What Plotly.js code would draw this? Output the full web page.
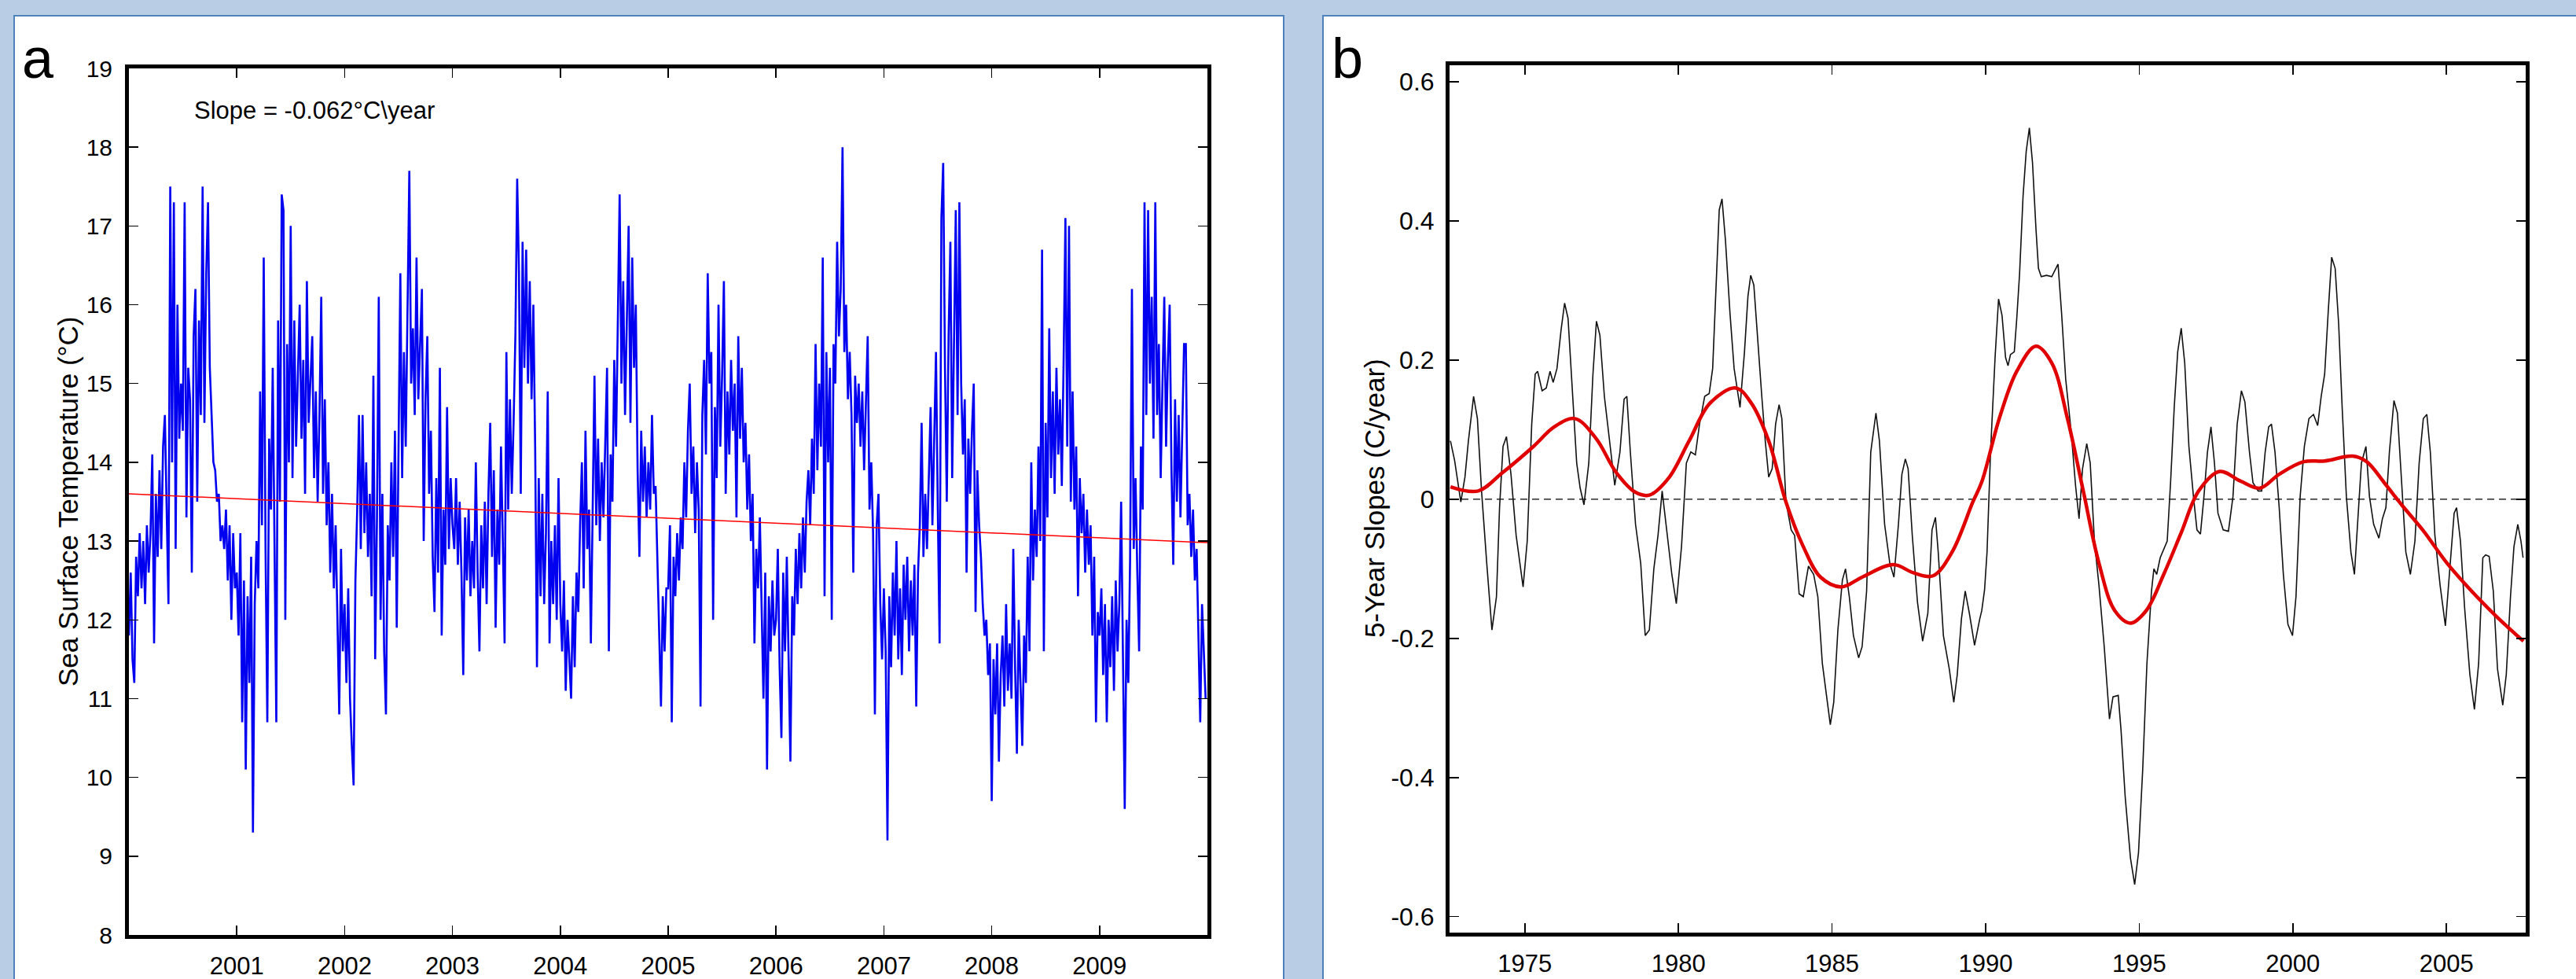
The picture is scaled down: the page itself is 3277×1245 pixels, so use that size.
<!DOCTYPE html>
<html><head><meta charset="utf-8">
<script src="https://cdn.plot.ly/plotly-3.0.1.min.js"></script>
<style>
html,body{margin:0;padding:0;width:3277px;height:1245px;overflow:hidden;background:#b9cde5;}
.panel{position:absolute;background:#fff;border:2px solid #4f81bd;box-sizing:border-box;}
#pa{left:17px;top:19px;width:1617px;height:1300px;}
#pb{left:1682px;top:19px;width:1650px;height:1300px;}
#chart{position:absolute;left:0;top:0;width:3277px;height:1245px;}
</style></head>
<body>
<div class="panel" id="pa"></div><div class="panel" id="pb"></div>
<div id="chart"></div>
<script>
// ---------- Panel a: daily sea surface temperature (°C), 60 samples per year ----------
const sstYears = [2000, 2001, 2002, 2003, 2004, 2005, 2006, 2007, 2008, 2009];
const samplesPerYear = 60;
const sst2000 = [11.8,12.6,11.5,11.2,12.8,12.3,13.1,12.4,13.0,12.2,13.2,12.6,13.1,14.1,11.7,13.6,12.8,13.9,12.9,14.2,14.6,13.3,12.2,17.5,14.0,17.3,12.9,16.0,14.3,15.0,14.4,17.3,13.3,15.2,14.8,12.6,15.6,16.2,13.5,15.8,14.6,17.5,14.5,16.4,17.3,15.2,14.5,14.0,13.9,13.5,13.6,13.0,13.2,12.9,13.4,12.5,13.2,12.0,13.1,12.4];
const sst2001 = [12.6,11.8,13.1,10.7,12.5,10.1,12.3,11.2,12.8,9.3,12.2,13.0,12.4,14.9,13.2,16.6,12.9,10.7,14.3,13.4,15.2,12.8,10.7,15.8,13.5,17.4,17.2,12.0,15.5,14.0,17.0,13.8,15.8,14.2,15.1,16.0,14.3,15.3,13.6,16.3,14.5,15.0,15.6,13.8,14.9,13.5,14.6,16.1,13.6,14.8,13.2,14.0,12.6,13.6,12.4,13.2,11.8,10.8,12.9,11.6];
const sst2002 = [12.2,11.2,12.4,11.0,10.4,9.9,12.5,13.4,14.6,12.9,14.6,13.1,14.0,12.8,13.6,12.3,15.1,11.5,13.3,16.1,12.0,13.6,11.6,10.8,13.2,12.5,14.0,12.8,14.4,11.9,14.2,16.4,13.8,15.4,14.2,16.0,17.7,15.0,15.7,14.6,16.6,14.8,15.6,16.2,13.0,14.8,15.6,13.6,14.4,12.8,12.1,13.8,12.6,15.2,11.8,13.4,12.7,14.7,12.9,13.8];
const sst2003 = [13.2,12.9,13.8,12.7,13.5,12.6,11.3,13.3,12.5,13.4,12.3,13.0,12.4,14.0,12.6,11.6,13.2,12.4,13.5,12.2,13.6,14.5,12.8,13.9,11.9,13.4,12.7,14.2,13.0,11.7,15.4,13.4,14.8,13.6,14.5,15.6,17.6,16.4,13.6,16.8,15.2,16.7,15.0,16.3,14.8,16.0,14.2,11.4,13.8,12.3,13.6,12.2,13.1,14.9,11.7,13.0,12.2,13.2,12.0,13.8];
const sst2004 = [12.2,11.6,12.5,11.1,12.0,11.5,11.0,12.3,11.4,12.6,12.1,13.2,14.0,12.4,14.4,12.9,13.4,11.7,13.5,15.1,13.2,14.3,13.0,14.0,13.3,14.4,15.2,11.6,14.1,13.5,15.3,14.2,16.0,17.4,15.0,16.3,14.6,15.8,17.0,14.5,16.6,15.2,16.0,13.9,12.8,14.4,13.5,14.2,13.3,14.0,13.4,14.6,13.6,13.7,12.8,12.0,10.9,12.3,11.6,12.4];
const sst2005 = [12.4,13.2,10.7,12.8,12.3,13.1,12.5,13.3,12.9,14.0,13.3,14.4,15.0,13.6,14.2,13.1,14.0,13.4,10.9,14.6,15.3,14.1,16.4,15.0,15.4,12.0,14.7,13.8,16.0,14.2,15.1,16.3,13.6,14.9,14.1,15.3,14.4,15.0,13.3,15.6,14.3,15.2,14.0,14.5,13.4,14.1,13.0,13.6,11.7,12.9,12.4,13.3,12.3,11.0,12.6,10.1,12.3,11.6,12.5,11.8];
const sst2006 = [12.0,12.9,11.4,10.5,12.6,11.6,12.8,11.3,10.2,12.3,11.8,12.9,12.2,13.1,12.4,13.3,12.6,13.5,13.9,13.2,14.3,13.6,15.5,13.9,15.0,14.2,16.6,12.3,15.4,14.0,15.2,12.0,15.5,15.0,16.8,15.6,16.2,18.0,15.4,16.0,14.8,15.4,14.6,12.6,15.1,14.5,15.0,14.2,14.9,13.9,14.7,15.6,13.4,14.0,13.1,10.8,13.2,13.6,12.2,11.5];
const sst2007 = [12.4,11.6,9.2,12.3,11.4,12.6,11.8,13.0,11.5,12.4,11.3,12.7,12.0,12.8,11.6,12.5,11.8,12.7,10.9,12.6,13.2,14.5,12.8,13.6,12.9,13.8,14.7,13.2,14.4,15.4,13.4,11.7,17.1,17.8,15.2,13.5,15.6,16.8,13.8,15.4,17.2,14.6,17.3,15.0,14.1,14.8,12.6,14.3,13.6,14.4,15.0,12.1,13.9,13.2,12.8,12.2,11.8,12.0,11.3,11.7];
const sst2008 = [9.7,11.5,10.8,11.7,10.2,11.3,11.8,10.9,12.2,11.1,11.7,11.0,12.9,11.4,10.3,12.0,11.3,10.4,11.8,11.2,12.8,11.6,14.0,12.5,13.4,12.8,14.2,13.0,16.7,11.6,14.5,13.3,15.7,13.8,14.9,13.6,15.2,14.1,14.8,13.7,15.3,17.1,14.2,17.0,13.5,14.9,13.4,14.2,12.3,13.8,13.1,13.6,12.6,13.4,12.7,13.2,11.8,12.8,10.7,12.1];
const sst2009 = [11.8,12.4,11.3,12.2,10.7,12.0,11.4,12.3,11.1,12.5,11.6,12.2,13.5,11.4,9.6,12.0,11.2,12.8,16.2,12.9,13.8,12.6,11.6,14.2,13.4,17.3,14.6,17.2,15.0,16.1,14.3,17.3,14.6,15.5,13.8,15.0,16.1,14.2,15.3,16.0,13.9,12.7,14.8,13.5,14.6,13.3,14.4,15.5,15.5,13.2,13.6,12.8,13.4,12.5,12.9,11.7,10.7,12.2,11.5,11.0];
const trendYears = [2000.0, 2010.0];
const trendSST = [13.60, 12.98];
const sstXTicks = [2001, 2002, 2003, 2004, 2005, 2006, 2007, 2008, 2009];
const sstXLabels = ['2001','2002','2003','2004','2005','2006','2007','2008','2009'];
const sstYTicks = [8, 9, 10, 11, 12, 13, 14, 15, 16, 17, 18, 19];

// ---------- Panel b: 5-year slopes (C/year) ----------
const slopeYears = [1972.579,1972.714,1972.917,1973.052,1973.164,1973.333,1973.457,1973.592,1973.761,1973.930,1974.077,1974.178,1974.291,1974.403,1974.550,1974.718,1974.944,1975.079,1975.225,1975.338,1975.417,1975.563,1975.698,1975.822,1975.923,1976.047,1976.182,1976.295,1976.408,1976.543,1976.689,1976.802,1976.926,1977.083,1977.218,1977.331,1977.444,1977.590,1977.759,1977.928,1978.097,1978.232,1978.322,1978.435,1978.604,1978.773,1978.919,1979.054,1979.200,1979.336,1979.471,1979.617,1979.786,1979.932,1980.101,1980.259,1980.405,1980.552,1980.687,1980.856,1981.002,1981.115,1981.227,1981.329,1981.419,1981.532,1981.678,1981.813,1982.005,1982.151,1982.264,1982.354,1982.455,1982.601,1982.714,1982.827,1982.939,1983.052,1983.164,1983.277,1983.367,1983.502,1983.671,1983.784,1983.930,1984.065,1984.234,1984.403,1984.538,1984.685,1984.820,1984.944,1985.056,1985.191,1985.338,1985.439,1985.563,1985.698,1985.867,1985.980,1986.126,1986.261,1986.430,1986.543,1986.712,1986.881,1987.016,1987.162,1987.275,1987.387,1987.477,1987.613,1987.782,1987.950,1988.119,1988.255,1988.367,1988.457,1988.626,1988.818,1988.964,1989.077,1989.212,1989.336,1989.471,1989.640,1989.809,1989.875,1989.966,1990.046,1990.160,1990.308,1990.421,1990.535,1990.649,1990.729,1990.809,1990.934,1991.014,1991.105,1991.219,1991.321,1991.424,1991.526,1991.640,1991.720,1991.811,1991.982,1992.153,1992.267,1992.358,1992.472,1992.608,1992.779,1992.927,1993.041,1993.155,1993.292,1993.405,1993.542,1993.690,1993.861,1994.032,1994.146,1994.317,1994.408,1994.544,1994.715,1994.852,1994.977,1995.114,1995.251,1995.399,1995.478,1995.569,1995.683,1995.797,1995.911,1996.025,1996.139,1996.253,1996.367,1996.481,1996.617,1996.765,1996.879,1996.993,1997.107,1997.221,1997.335,1997.449,1997.563,1997.733,1997.904,1998.052,1998.189,1998.326,1998.440,1998.588,1998.702,1998.872,1998.986,1999.100,1999.214,1999.305,1999.419,1999.556,1999.692,1999.841,1999.989,2000.103,2000.239,2000.376,2000.524,2000.672,2000.809,2000.923,2001.036,2001.150,2001.264,2001.378,2001.492,2001.606,2001.743,2001.891,2002.005,2002.118,2002.232,2002.380,2002.494,2002.631,2002.802,2002.916,2003.030,2003.144,2003.292,2003.405,2003.542,2003.679,2003.827,2003.975,2004.112,2004.248,2004.362,2004.476,2004.624,2004.795,2004.966,2005.114,2005.251,2005.330,2005.456,2005.592,2005.763,2005.911,2006.048,2006.185,2006.276,2006.390,2006.526,2006.663,2006.834,2006.948,2007.085,2007.198,2007.323,2007.426,2007.494];
const slopeValues = [0.084,0.056,-0.004,0.032,0.084,0.148,0.116,0.012,-0.092,-0.188,-0.14,-0.012,0.076,0.09,0.036,-0.052,-0.126,-0.06,0.108,0.18,0.184,0.156,0.16,0.184,0.168,0.188,0.244,0.282,0.26,0.156,0.052,0.016,-0.008,0.052,0.18,0.256,0.236,0.148,0.084,0.02,0.068,0.144,0.148,0.068,-0.036,-0.092,-0.196,-0.188,-0.1,-0.052,0.012,-0.044,-0.108,-0.15,-0.068,0.052,0.068,0.064,0.108,0.148,0.152,0.188,0.3,0.416,0.432,0.372,0.268,0.188,0.132,0.212,0.292,0.322,0.308,0.212,0.148,0.084,0.032,0.044,0.108,0.136,0.116,-0.004,-0.044,-0.052,-0.136,-0.14,-0.096,-0.108,-0.14,-0.236,-0.284,-0.324,-0.292,-0.188,-0.116,-0.1,-0.14,-0.196,-0.228,-0.212,-0.132,0.068,0.124,0.084,-0.036,-0.092,-0.112,-0.036,0.036,0.058,0.044,-0.052,-0.148,-0.204,-0.164,-0.044,-0.026,-0.076,-0.196,-0.244,-0.292,-0.252,-0.172,-0.132,-0.164,-0.21,-0.172,-0.16,-0.13,-0.076,0.068,0.204,0.288,0.264,0.204,0.192,0.208,0.212,0.26,0.324,0.436,0.5,0.534,0.484,0.388,0.332,0.32,0.322,0.32,0.33,0.338,0.268,0.172,0.1,0.02,-0.028,0.044,0.08,0.052,-0.06,-0.124,-0.212,-0.316,-0.284,-0.282,-0.332,-0.428,-0.516,-0.554,-0.508,-0.388,-0.236,-0.132,-0.1,-0.108,-0.084,-0.072,-0.06,0.028,0.132,0.212,0.246,0.196,0.076,0.004,-0.044,-0.05,0.004,0.068,0.104,0.052,-0.02,-0.044,-0.046,0.004,0.108,0.156,0.14,0.068,0.024,0.012,0.012,0.068,0.104,0.108,0.068,-0.012,-0.108,-0.18,-0.196,-0.14,0.004,0.076,0.116,0.122,0.106,0.148,0.18,0.268,0.348,0.332,0.252,0.132,0.004,-0.076,-0.108,-0.028,0.052,0.076,0.004,-0.036,-0.056,-0.028,-0.012,0.068,0.142,0.124,0.02,-0.076,-0.108,-0.06,0.052,0.116,0.122,0.068,-0.052,-0.124,-0.182,-0.092,-0.02,-0.012,-0.06,-0.156,-0.252,-0.302,-0.236,-0.084,-0.08,-0.082,-0.132,-0.244,-0.296,-0.252,-0.14,-0.068,-0.036,-0.06,-0.084];
const smoothYears = [1972.579,1973.480,1974.268,1975.282,1975.957,1976.633,1977.309,1977.984,1978.604,1979.054,1979.673,1980.349,1981.025,1981.869,1982.376,1982.939,1983.502,1984.065,1984.628,1985.304,1985.980,1986.993,1987.669,1988.288,1988.907,1989.583,1989.875,1990.444,1991.014,1991.640,1992.153,1992.665,1993.178,1993.690,1994.203,1994.715,1995.228,1995.797,1996.367,1996.936,1997.620,1998.303,1998.929,1999.556,2000.353,2001.036,2001.948,2002.403,2002.973,2003.542,2004.226,2005.023,2005.820,2006.617,2007.506];
const smoothValues = [0.018,0.012,0.038,0.076,0.104,0.116,0.088,0.038,0.01,0.006,0.03,0.084,0.138,0.16,0.138,0.084,-0.004,-0.068,-0.112,-0.126,-0.112,-0.094,-0.106,-0.11,-0.076,-0.004,0.025,0.116,0.184,0.22,0.196,0.116,0.012,-0.092,-0.16,-0.178,-0.16,-0.108,-0.048,0.012,0.04,0.026,0.016,0.036,0.054,0.055,0.062,0.054,0.024,-0.008,-0.044,-0.092,-0.132,-0.168,-0.204];
const zeroYears = [1972.55, 2007.58];
const zeroValues = [0, 0];
const slopeXTicks = [1975, 1980, 1985, 1990, 1995, 2000, 2005];
const slopeXLabels = ['1975','1980','1985','1990','1995','2000','2005'];
const slopeYTicks = [-0.6, -0.4, -0.2, 0, 0.2, 0.4, 0.6];
const slopeYLabels = ['-0.6','-0.4','-0.2','0','0.2','0.4','0.6'];

// ---------- build ----------
const W = 3277, H = 1245;
const px = v => v / W;
const py = v => 1 - v / H;

const sstX = [], sstY = [];
const sstSeries = [sst2000, sst2001, sst2002, sst2003, sst2004, sst2005, sst2006, sst2007, sst2008, sst2009];
sstYears.forEach((yr, k) => {
  sstSeries[k].forEach((v, j) => { sstX.push(yr + j / samplesPerYear); sstY.push(v); });
});

const FONT = 'Liberation Sans, Arial, sans-serif';
const axisCommon = {
  showline: true, linewidth: 5, linecolor: '#000', mirror: 'ticks',
  ticks: 'inside', ticklen: 12, tickwidth: 1.5, tickcolor: '#000',
  showgrid: false, zeroline: false, fixedrange: true,
  tickfont: {family: FONT, size: 31, color: '#000'}
};

const traces = [
  {x: sstX, y: sstY, xaxis: 'x', yaxis: 'y', type: 'scatter', mode: 'lines',
   line: {color: '#0000f0', width: 2.6}, hoverinfo: 'skip'},
  {x: trendYears, y: trendSST, xaxis: 'x', yaxis: 'y', type: 'scatter', mode: 'lines',
   line: {color: '#ff0000', width: 1.5}, hoverinfo: 'skip'},
  {x: zeroYears, y: zeroValues, xaxis: 'x2', yaxis: 'y2', type: 'scatter', mode: 'lines',
   line: {color: '#000', width: 1.2, dash: '9px,6px'}, hoverinfo: 'skip'},
  {x: slopeYears, y: slopeValues, xaxis: 'x2', yaxis: 'y2', type: 'scatter', mode: 'lines',
   line: {color: '#111', width: 1.6}, hoverinfo: 'skip'},
  {x: smoothYears, y: smoothValues, xaxis: 'x2', yaxis: 'y2', type: 'scatter', mode: 'lines',
   line: {color: '#e00000', width: 4.5, shape: 'spline', smoothing: 1}, hoverinfo: 'skip'}
];

const layout = {
  width: W, height: H,
  margin: {l: 0, r: 0, t: 0, b: 0},
  paper_bgcolor: 'rgba(0,0,0,0)', plot_bgcolor: 'rgba(0,0,0,0)',
  showlegend: false,
  xaxis: Object.assign({}, axisCommon, {domain: [px(164), px(1536)], range: [2000, 2010], anchor: 'y',
    tickvals: sstXTicks, ticktext: sstXLabels, ticklabelstandoff: 8}),
  yaxis: Object.assign({}, axisCommon, {domain: [py(1189), py(87)], range: [8, 19], anchor: 'x',
    tickvals: sstYTicks, ticktext: sstYTicks.map(String), ticklabelstandoff: 10,
    tickfont: {family: FONT, size: 30, color: '#000'}}),
  xaxis2: Object.assign({}, axisCommon, {domain: [px(1844), px(3213)], range: [1972.55, 2007.58], anchor: 'y2',
    tickvals: slopeXTicks, ticktext: slopeXLabels, ticklabelstandoff: 8}),
  yaxis2: Object.assign({}, axisCommon, {domain: [py(1186), py(83)], range: [-0.623, 0.624], anchor: 'x2',
    tickvals: slopeYTicks, ticktext: slopeYLabels, ticklabelstandoff: 8,
    tickfont: {family: FONT, size: 32, color: '#000'}}),
  annotations: [
    {text: 'a', xref: 'paper', yref: 'paper', x: px(26), y: py(116), xanchor: 'left', yanchor: 'bottom',
     showarrow: false, font: {family: FONT, size: 72, color: '#000'}},
    {text: 'b', xref: 'paper', yref: 'paper', x: px(1692), y: py(116), xanchor: 'left', yanchor: 'bottom',
     showarrow: false, font: {family: FONT, size: 72, color: '#000'}},
    {text: 'Sea Surface Temperature (°C)', xref: 'paper', yref: 'paper', x: px(86), y: py(638),
     xanchor: 'center', yanchor: 'middle', textangle: -90, showarrow: false,
     font: {family: FONT, size: 35, color: '#000'}},
    {text: '5-Year Slopes (C/year)', xref: 'paper', yref: 'paper', x: px(1748), y: py(634),
     xanchor: 'center', yanchor: 'middle', textangle: -90, showarrow: false,
     font: {family: FONT, size: 35, color: '#000'}},
    {text: 'Slope = -0.062°C\\year', xref: 'paper', yref: 'paper', x: px(245), y: py(141),
     xanchor: 'left', yanchor: 'middle', showarrow: false,
     font: {family: FONT, size: 31, color: '#000'}}
  ]
};

Plotly.newPlot('chart', traces, layout, {displayModeBar: false, staticPlot: true});
</script>
</body></html>
